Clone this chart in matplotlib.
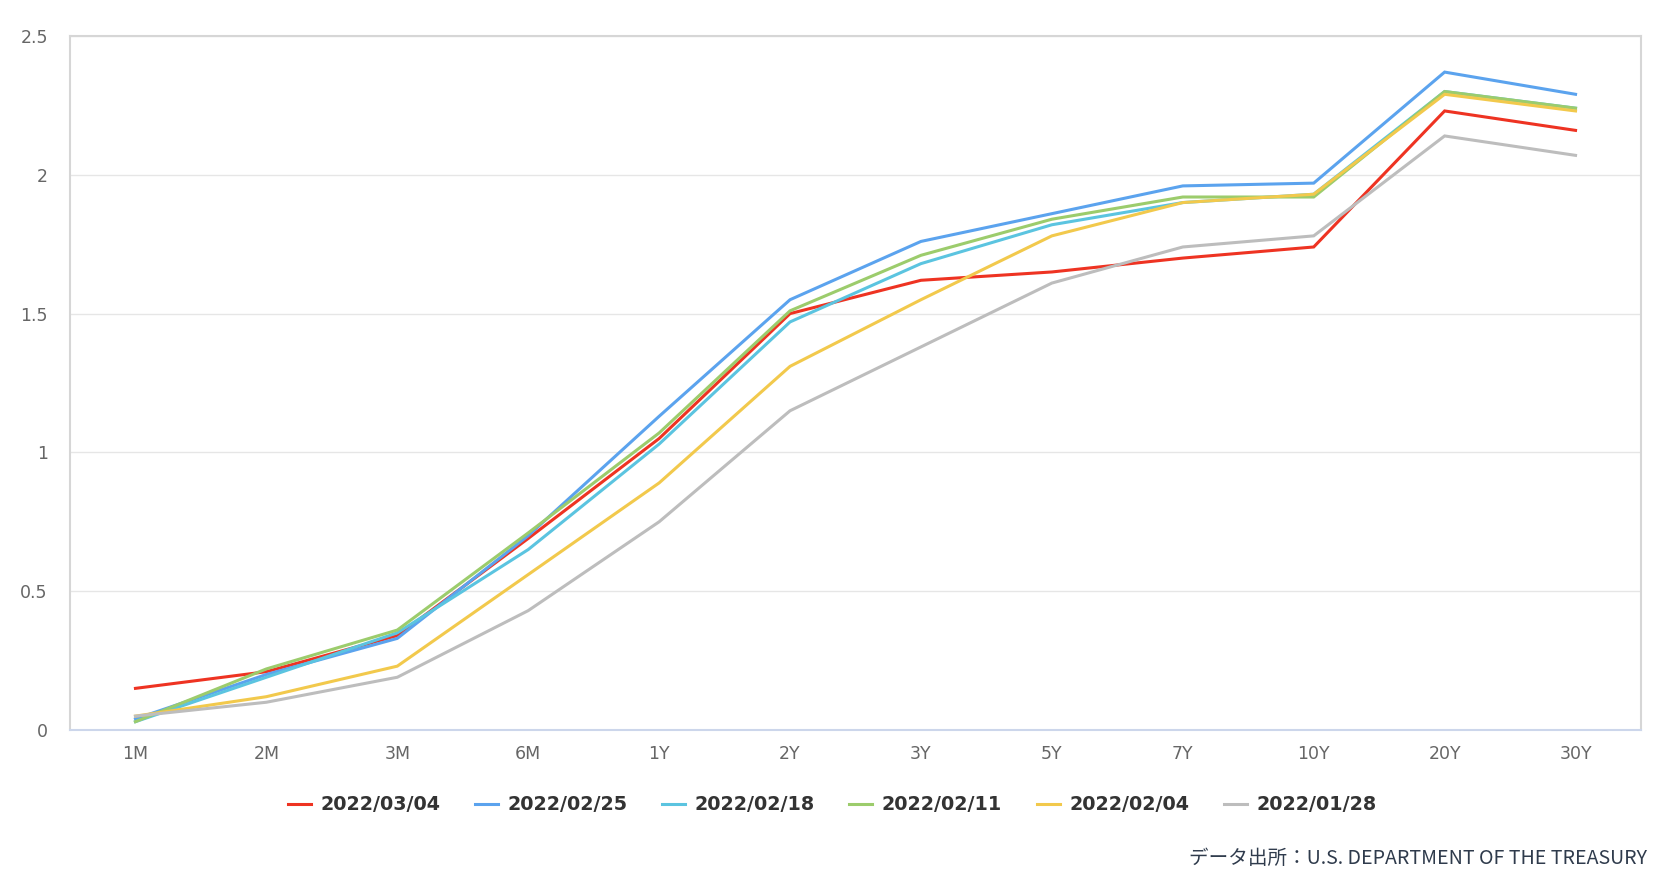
import matplotlib
matplotlib.use('Agg')
import matplotlib.pyplot as plt
import numpy as np

# Treasury yield curve, weekly snapshots
tenors = ['1M', '2M', '3M', '6M', '1Y', '2Y', '3Y', '5Y', '7Y', '10Y', '20Y', '30Y']
dates = ['2022/03/04', '2022/02/25', '2022/02/18', '2022/02/11', '2022/02/04', '2022/01/28']

y_0304 = [0.15, 0.21, 0.34, 0.69, 1.05, 1.50, 1.62, 1.65, 1.70, 1.74, 2.23, 2.16]
y_0225 = [0.04, 0.20, 0.33, 0.70, 1.13, 1.55, 1.76, 1.86, 1.96, 1.97, 2.37, 2.29]
y_0218 = [0.03, 0.19, 0.35, 0.65, 1.03, 1.47, 1.68, 1.82, 1.90, 1.93, 2.30, 2.24]
y_0211 = [0.03, 0.22, 0.36, 0.71, 1.07, 1.51, 1.71, 1.84, 1.92, 1.92, 2.30, 2.24]
y_0204 = [0.05, 0.12, 0.23, 0.56, 0.89, 1.31, 1.55, 1.78, 1.90, 1.93, 2.29, 2.23]
y_0128 = [0.05, 0.10, 0.19, 0.43, 0.75, 1.15, 1.38, 1.61, 1.74, 1.78, 2.14, 2.07]

series = [y_0304, y_0225, y_0218, y_0211, y_0204, y_0128]
colors = ['#ee3322', '#5ba3ee', '#5bc4e0', '#9ccc6c', '#f2c94c', '#bdbdbd']

fig = plt.figure(figsize=(16.64, 8.84), dpi=100)
ax = fig.add_axes([70 / 1664, 1 - 730 / 884, (1641 - 70) / 1664, (730 - 36) / 884])

x = np.arange(len(tenors))
for vals, lab, c in zip(series, dates, colors):
    ax.plot(x, vals, color=c, lw=2.2, label=lab, solid_joinstyle='miter')

ax.set_xlim(-0.5, len(tenors) - 0.5)
ax.set_ylim(0, 2.5)
ax.set_yticks([0, 0.5, 1, 1.5, 2, 2.5])
ax.set_yticklabels(['0', '0.5', '1', '1.5', '2', '2.5'])
ax.set_xticks(x)
ax.set_xticklabels(tenors)
ax.tick_params(axis='y', length=0, pad=16, labelsize=12.5, labelcolor='#666666')
ax.tick_params(axis='x', length=0, pad=11, labelsize=12.5, labelcolor='#666666')
ax.grid(axis='y', color='#e6e6e6', lw=1)
ax.set_axisbelow(True)
for s in ['left', 'top', 'right']:
    ax.spines[s].set_color('#d6d6d6')
    ax.spines[s].set_linewidth(1.5)
ax.spines['bottom'].set_color('#ccd6eb')
ax.spines['bottom'].set_linewidth(1.5)

fig.legend(loc='center', bbox_to_anchor=(0.5, 1 - 805 / 884), ncol=6, frameon=False,
           prop={'family': 'DejaVu Sans', 'weight': 'bold', 'size': 13.8},
           labelcolor='#333333', handlelength=1.2, handletextpad=0.5, columnspacing=1.8)

fig.text(1647 / 1664, 1 - 858 / 884, 'データ出所：U.S. DEPARTMENT OF THE TREASURY',
         ha='right', va='center', fontsize=14.1, color='#2f3b4c',
         family=['Noto Sans CJK JP', 'DejaVu Sans'])

fig.savefig('out.png', dpi=100)
